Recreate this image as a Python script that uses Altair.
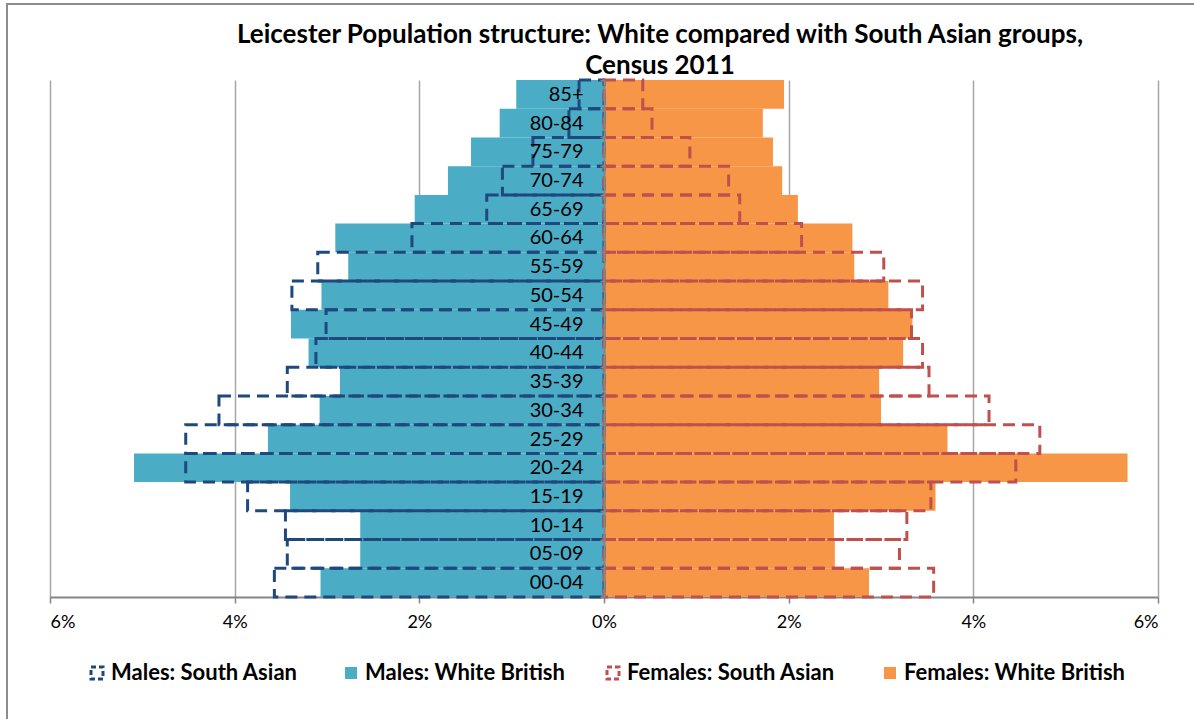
import altair as alt
import pandas as pd

# Age bands, bottom to top
ages = ["00-04", "05-09", "10-14", "15-19", "20-24", "25-29", "30-34", "35-39", "40-44",
        "45-49", "50-54", "55-59", "60-64", "65-69", "70-74", "75-79", "80-84", "85+"]

# Share of each group's population (%) by age band
males_white = [3.07, 2.64, 2.64, 3.40, 5.09, 3.64, 3.08, 2.86, 3.20,
               3.39, 3.06, 2.77, 2.91, 2.05, 1.69, 1.44, 1.13, 0.95]
males_asian = [3.57, 3.43, 3.45, 3.86, 4.53, 4.53, 4.17, 3.43, 3.12,
               3.01, 3.38, 3.10, 2.08, 1.27, 1.10, 0.77, 0.38, 0.27]
females_white = [2.87, 2.50, 2.49, 3.59, 5.67, 3.72, 3.00, 2.98, 3.24,
                 3.34, 3.08, 2.71, 2.69, 2.10, 1.93, 1.83, 1.72, 1.95]
females_asian = [3.57, 3.20, 3.28, 3.54, 4.46, 4.72, 4.17, 3.52, 3.45,
                 3.33, 3.45, 3.03, 2.14, 1.47, 1.35, 0.93, 0.52, 0.42]

x_ticks = [-6, -4, -2, 0, 2, 4, 6]

series_list = [
    ("Males: South Asian", males_asian, -1),
    ("Males: White British", males_white, -1),
    ("Females: South Asian", females_asian, 1),
    ("Females: White British", females_white, 1),
]

rows = []
for name, vals, sign in series_list:
    for age, v in zip(ages, vals):
        rows.append({"age": age, "series": name,
                     "start": min(0.0, sign * v), "end": max(0.0, sign * v)})
df = pd.DataFrame(rows)

FONT = "Lato"
GRID = "#A6A6A6"
AXIS = "#868686"

x_axis = alt.Axis(values=x_ticks, labelExpr="abs(datum.value) + '%'", title=None,
                  grid=True, gridColor=GRID, gridWidth=1.5,
                  domainColor=AXIS, domainWidth=2, tickColor=AXIS, tickWidth=1.5,
                  tickSize=6, labelPadding=10, labelFont=FONT, labelFontSize=18,
                  labelColor="black")
y_axis = alt.Axis(title=None, orient="left", offset=-554, grid=False,
                  domainColor=AXIS, domainWidth=2, tickColor=AXIS, tickWidth=1.5,
                  tickSize=4, tickBand="extent", labelPadding=17, labelAlign="right",
                  labelFont=FONT, labelFontSize=20, labelColor="black", zindex=1)

x_enc = alt.X("start:Q", scale=alt.Scale(domain=[-6, 6], nice=False, zero=False), axis=x_axis)
y_enc = alt.Y("age:N", sort=ages[::-1],
              scale=alt.Scale(paddingInner=0, paddingOuter=0), axis=y_axis)


def layer(name, color, filled, legend_x):
    legend_kw = dict(orient="none", legendX=legend_x, legendY=582, title=None, padding=0,
                     symbolType="square", symbolSize=144, labelOffset=3, labelLimit=400,
                     labelFont=FONT, labelFontSize=22, labelFontWeight="bold",
                     labelColor="black")
    if filled:
        mark = alt.Chart(df).mark_bar(opacity=1)
    else:
        mark = alt.Chart(df).mark_bar(filled=False, strokeWidth=3, strokeDash=[12, 7])
        legend_kw.update(symbolDash=[5, 3], symbolStrokeWidth=3)
    return mark.transform_filter(alt.datum.series == name).encode(
        x=x_enc, x2="end:Q", y=y_enc,
        color=alt.Color("series:N",
                        scale=alt.Scale(domain=[name], range=[color]),
                        legend=alt.Legend(**legend_kw)),
    )


white_m = layer("Males: White British", "#4BACC6", True, 290)
white_f = layer("Females: White British", "#F79646", True, 829)
asian_m = layer("Males: South Asian", "#1F497D", False, 36)
asian_f = layer("Females: South Asian", "#C0504D", False, 552)

# outer chart-area border
frame = alt.Chart(pd.DataFrame({"k": [0]})).mark_rect(
    filled=False, stroke="#8C8C8C", strokeWidth=2
).encode(x=alt.value(-43), x2=alt.value(1300), y=alt.value(-76), y2=alt.value(800))

chart = alt.layer(frame, white_m, white_f, asian_m, asian_f).resolve_scale(
    color="independent"
).properties(
    width=1108,
    height=517,
    padding={"left": 50, "top": 80, "right": 36, "bottom": 122},
    autosize=alt.AutoSizeParams(type="none"),
    background="white",
    title=alt.TitleParams(
        text=["Leicester Population structure: White compared with South Asian groups,",
              "Census 2011"],
        font=FONT, fontSize=26, fontWeight="bold", color="black",
        anchor="middle", frame="group", dx=56, offset=-76, lineHeight=31,
    ),
).configure_view(strokeWidth=0)

chart.save("out.html", embed_options={"renderer": "svg", "actions": False})
